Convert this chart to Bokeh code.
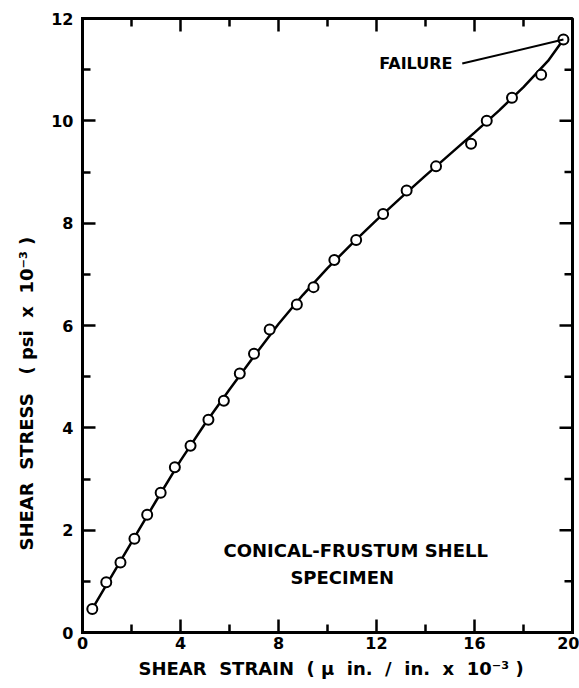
import math
from bokeh.plotting import figure
from bokeh.models import FixedTicker, LinearAxis, Range1d, Label, Title
from bokeh.embed import file_html
from bokeh.resources import INLINE

# Measured test points (shear strain, shear stress)
strain = [0.40, 0.97, 1.55, 2.12, 2.64, 3.19, 3.77, 4.41, 5.14, 5.77,
          6.42, 7.00, 7.64, 8.75, 9.43, 10.28, 11.17, 12.27, 13.23,
          14.43, 15.86, 16.50, 17.53, 18.72, 19.63]
stress = [0.46, 0.98, 1.37, 1.83, 2.30, 2.73, 3.23, 3.65, 4.16, 4.53,
          5.06, 5.45, 5.92, 6.41, 6.75, 7.28, 7.67, 8.18, 8.64,
          9.11, 9.55, 10.00, 10.45, 10.90, 11.59]

# Faired curve
fit_strain = [0.40, 1, 2, 3, 4, 5, 6, 7, 8, 9, 10, 11, 12, 13, 14, 15,
              16, 17, 18, 19, 19.63]
fit_stress = [0.46, 0.95, 1.76, 2.57, 3.36, 4.08, 4.75, 5.40, 6.03, 6.60,
              7.12, 7.60, 8.06, 8.50, 8.93, 9.35, 9.77, 10.20, 10.66,
              11.17, 11.59]

X_MIN, X_MAX = 0, 20
Y_MIN, Y_MAX = 0, 12
x_major = [0, 4, 8, 12, 16, 20]
x_minor = [2, 6, 10, 14, 18]
y_major = [0, 2, 4, 6, 8, 10, 12]
y_minor = [1, 3, 5, 7, 9, 11]

NB = "\u00a0"
x_title = ("SHEAR" + NB + " STRAIN" + NB + " (" + NB + "\u03bc" + NB + " in."
           + NB + " /" + NB + " in." + NB + " x" + NB + " 10\u207b\u00b3" + NB + ")")
y_title = ("SHEAR" + NB + " STRESS" + NB + NB + " (" + NB + "psi" + NB + " x"
           + NB + " 10\u207b\u00b3" + NB + ")")
note_lines = ["CONICAL-FRUSTUM SHELL", "SPECIMEN"]
failure_text = "FAILURE"

FONT = "DejaVu Sans"
MAJOR_LEN, MINOR_LEN = 13, 8

p = figure(width=579, height=688, output_backend="svg", toolbar_location=None,
           x_range=Range1d(X_MIN, X_MAX), y_range=Range1d(Y_MIN, Y_MAX),
           x_axis_location=None, y_axis_location=None,
           min_border_left=82, min_border_right=7,
           min_border_top=18, min_border_bottom=56)
p.grid.visible = False
p.outline_line_color = "black"
p.outline_line_width = 3
p.background_fill_color = "white"
p.border_fill_color = "white"


def style_axis(ax):
    ax.axis_line_width = 3
    ax.axis_line_color = "black"
    ax.axis_line_cap = "square"
    ax.major_tick_in = MAJOR_LEN
    ax.major_tick_out = 0
    ax.minor_tick_in = MINOR_LEN
    ax.minor_tick_out = 0
    ax.major_tick_line_width = 2.5
    ax.minor_tick_line_width = 2.5
    ax.major_tick_line_color = "black"
    ax.minor_tick_line_color = "black"
    ax.major_label_text_font = FONT
    ax.major_label_text_font_style = "bold"
    ax.major_label_text_font_size = "16px"
    ax.major_label_text_color = "black"


bottom = LinearAxis(ticker=FixedTicker(ticks=x_major, minor_ticks=x_minor))
style_axis(bottom)
bottom.major_label_standoff = 4
p.add_layout(bottom, "below")

left = LinearAxis(ticker=FixedTicker(ticks=y_major, minor_ticks=y_minor))
style_axis(left)
left.major_label_standoff = 9
p.add_layout(left, "left")

# inward ticks on the top and right frame edges
tick_kw = dict(line_color="black", line_width=2.5, length_units="screen")
p.ray(x=x_major, y=[Y_MAX] * len(x_major), length=MAJOR_LEN,
      angle=-math.pi / 2, **tick_kw)
p.ray(x=x_minor, y=[Y_MAX] * len(x_minor), length=MINOR_LEN,
      angle=-math.pi / 2, **tick_kw)
p.ray(x=[X_MAX] * len(y_major), y=y_major, length=MAJOR_LEN,
      angle=math.pi, **tick_kw)
p.ray(x=[X_MAX] * len(y_minor), y=y_minor, length=MINOR_LEN,
      angle=math.pi, **tick_kw)

# axis titles as side titles (offset along the axis)
p.add_layout(Title(text=x_title, align="left", offset=56, standoff=8,
                   text_font=FONT, text_font_style="bold",
                   text_font_size="18px", text_color="black"), "below")
p.add_layout(Title(text=y_title, align="left", offset=82, standoff=24,
                   text_font=FONT, text_font_style="bold",
                   text_font_size="18px", text_color="black"), "left")

# faired curve and data points
p.line(fit_strain, fit_stress, line_color="black", line_width=2.5)
p.scatter(strain, stress, marker="circle", size=10, fill_color="white",
          line_color="black", line_width=2)


def add_text(x, y, text, size, align="left"):
    p.add_layout(Label(x=x, y=y, text=text, text_font=FONT,
                       text_font_style="bold", text_font_size=size,
                       text_align=align, text_baseline="middle",
                       text_color="black"))


# failure annotation
fail_text_x, fail_text_y = 15.1, 11.12
leader_x0 = 15.5
p.line([leader_x0, strain[-1]], [fail_text_y, stress[-1]],
       line_color="black", line_width=2)
add_text(fail_text_x, fail_text_y, failure_text, "16px", align="right")

# specimen note
add_text(11.15, 1.60, note_lines[0], "18px", align="center")
add_text(10.6, 1.07, note_lines[1], "18px", align="center")

open("out.html", "w").write(file_html(p, INLINE))
